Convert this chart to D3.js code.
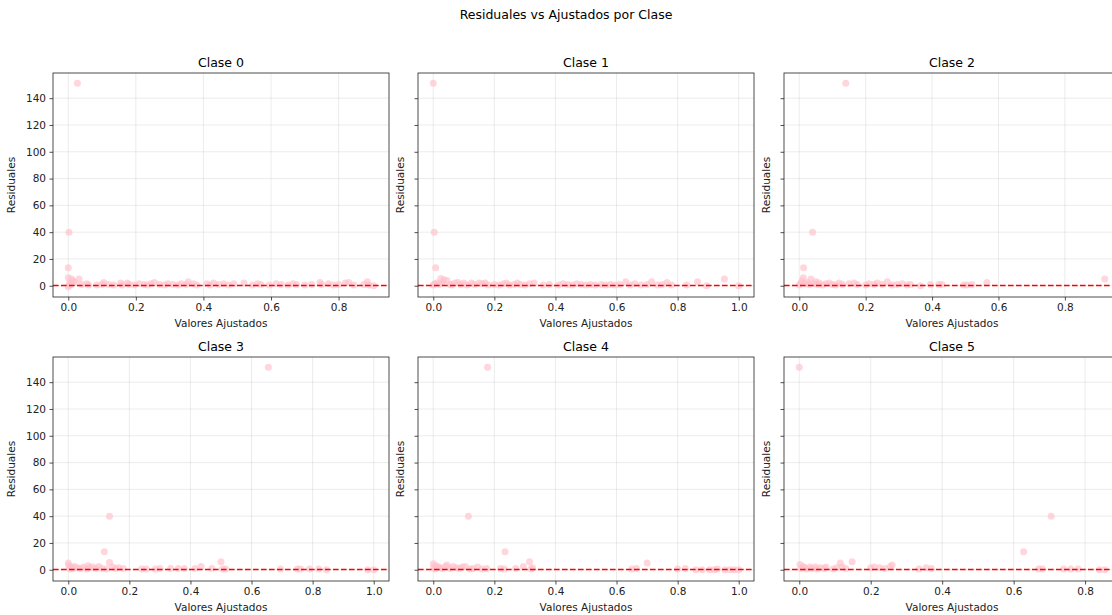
<!DOCTYPE html>
<html>
<head>
<meta charset="utf-8">
<script src="https://cdn.jsdelivr.net/npm/d3@7"></script>
<style>
  body { margin: 0; background: #fff; }
  svg { font-family: "DejaVu Sans", sans-serif; }
</style>
</head>
<body>
<div class="chart"></div>
<script>
// fitted values (x) and residuals (y) for each class
const classNames = ["Clase 0", "Clase 1", "Clase 2", "Clase 3", "Clase 4", "Clase 5"];

const fitted0 = [0.027, 0.002, 0.0, 0.0, 0.01, 0.032, 0.015, 0.005, 0.008, 0.02, 0.0, 0.003, 0.04, 0.055, 0.06,
  0.085, 0.1, 0.105, 0.12, 0.135, 0.155, 0.16, 0.175, 0.18, 0.195, 0.21, 0.225, 0.235, 0.245, 0.255, 0.27, 0.285,
  0.295, 0.31, 0.325, 0.335, 0.35, 0.355, 0.37, 0.38, 0.41, 0.42, 0.43, 0.445, 0.46, 0.475, 0.49, 0.52, 0.545,
  0.56, 0.57, 0.595, 0.615, 0.63, 0.65, 0.665, 0.675, 0.7, 0.72, 0.745, 0.75, 0.77, 0.785, 0.8, 0.82, 0.83,
  0.845, 0.875, 0.885, 0.89, 0.904];
const resid0 = [151.2, 40, 13.5, 6, 5, 5, 3.5, 2, 1, 2.5, -0.8, 0.5, 1, 1.5, 0.5,
  0.5, 1, 2.5, 1, 0.5, 2, 0.5, 2, 1, 0.5, 1.5, 1, 0.5, 1.5, 2.5, 1, 0.5,
  1.5, 1, 0.5, 1.5, 1, 3, 1.5, 0.5, 1.5, 0.5, 2, 1, 1.5, 0.5, 1.5, 2, 0.5,
  1.5, 1, 0.5, 1.5, 1, 0.5, 1.5, 1, 0.5, 1, 2.5, 1, 1.5, 0.5, 1, 2, 2.5,
  0.5, 1, 3, 0.5, 0];

const fitted1 = [0.0, 0.003, 0.008, 0.025, 0.035, 0.045, 0.0, 0.005, 0.012, 0.02, 0.03, 0.055, 0.06, 0.07,
  0.08, 0.09, 0.1, 0.11, 0.125, 0.135, 0.15, 0.16, 0.17, 0.18, 0.2, 0.215, 0.23, 0.24, 0.25, 0.265, 0.275,
  0.285, 0.3, 0.315, 0.33, 0.36, 0.38, 0.41, 0.425, 0.44, 0.455, 0.47, 0.485, 0.5, 0.515, 0.53, 0.55,
  0.565, 0.58, 0.595, 0.61, 0.63, 0.645, 0.66, 0.68, 0.7, 0.715, 0.735, 0.75, 0.765, 0.78, 0.83, 0.865,
  0.895, 0.953, 1.0];
const resid1 = [151.2, 40, 13.5, 5.5, 4.5, 4, 0.5, 1.5, 2, 1, 2.5, 1, 0.5, 2,
  2.5, 1, 2, 0.5, 2, 1, 2, 1.5, 2, 0.5, 1, 0.5, 1.5, 2, 0.5, 1, 2,
  1, 0.5, 1.5, 2, 0.5, 1, 0.5, 1.5, 1, 0.5, 1.5, 1, 0.5, 1, 0.5, 1,
  0.5, 1, 0.5, 1, 3, 0.5, 1.5, 0.5, 1, 3, 0.5, 1, 2.5, 0.5, 0.5, 3,
  0, 5, 0];

const fitted2 = [0.14, 0.04, 0.013, 0.012, 0.035, 0.92, 0.0, 0.005, 0.008, 0.018, 0.025, 0.03, 0.045, 0.05,
  0.055, 0.06, 0.07, 0.08, 0.09, 0.1, 0.11, 0.12, 0.13, 0.15, 0.165, 0.175, 0.2, 0.21, 0.225, 0.235, 0.25,
  0.265, 0.28, 0.295, 0.31, 0.325, 0.335, 0.365, 0.395, 0.42, 0.43, 0.495, 0.505, 0.52, 0.565];
const resid2 = [151.2, 40, 13.5, 6, 5, 5, 0.5, 2, 3.5, 1.5, 2.5, 1, 1.5, 3,
  1, 2, 0.5, 1.5, 2, 1, 0.5, 2, 1, 1.5, 2, 1, 0.5, 1.5, 1, 2, 1,
  3, 0.5, 1, 1.5, 0.5, 1, 0, 1, 1, 1, 0.5, 0.5, 1, 2.5];

const fitted3 = [0.655, 0.135, 0.118, 0.135, 0.5, 0.0, 0.002, 0.005, 0.01, 0.015, 0.02, 0.03, 0.04, 0.05,
  0.06, 0.065, 0.07, 0.08, 0.09, 0.1, 0.11, 0.125, 0.145, 0.155, 0.165, 0.18, 0.24, 0.255, 0.285, 0.3,
  0.335, 0.36, 0.38, 0.415, 0.435, 0.47, 0.505, 0.515, 0.695, 0.75, 0.76, 0.79, 0.82, 0.845, 0.98, 1.0];
const resid3 = [151.2, 40, 13.5, 5.5, 6, 5, 3, 0.5, 2, 1, 2.5, 1.5, 1, 2,
  0.5, 3, 1.5, 2, 1, 2.5, 1, 0.5, 2, 1, 1.5, 1, 0.5, 0.5, 0.5, 1,
  1, 1, 1, 1, 2.5, 1, 0.5, 0.5, 0.5, 0.5, 0.5, 0.5, 0.5, 0, 0, 0];

const fitted4 = [0.178, 0.115, 0.235, 0.315, 0.7, 0.0, 0.045, 0.002, 0.005, 0.01, 0.015, 0.02, 0.03, 0.04,
  0.055, 0.065, 0.075, 0.085, 0.095, 0.105, 0.12, 0.13, 0.145, 0.16, 0.175, 0.22, 0.232, 0.27, 0.295,
  0.32, 0.325, 0.65, 0.665, 0.8, 0.825, 0.86, 0.88, 0.905, 0.92, 0.93, 0.955, 0.97, 0.985, 1.0];
const resid4 = [151.2, 40, 13.5, 6, 5, 4.5, 3.5, 2, 0.5, 3, 1.5, 2, 1, 2.5,
  1, 2.5, 1.5, 1, 2, 2.5, 0.5, 1, 2, 0.5, 1, 1, 0.5, 1, 2.5,
  0.5, 1.5, 0.5, 1, 0.5, 1, 0, 0, 0, 0, 0.5, 0, 0, 0, 0];

const fitted5 = [0.0, 0.705, 0.628, 0.148, 0.115, 0.26, 0.002, 0.005, 0.01, 0.015, 0.02, 0.03, 0.035,
  0.045, 0.05, 0.06, 0.07, 0.075, 0.095, 0.105, 0.12, 0.13, 0.2, 0.21, 0.225, 0.24, 0.255, 0.335, 0.355,
  0.37, 0.67, 0.68, 0.74, 0.76, 0.78, 0.84, 0.855];
const resid5 = [151.2, 40, 13.5, 6, 5, 3.5, 4, 1, 2.5, 1.5, 0.5, 2, 1,
  2, 0.5, 1.5, 1, 2, 0.5, 1.5, 2, 1, 1.5, 2, 1.5, 1, 2.5, 0.5, 1.5,
  1, 0.5, 0.5, 0.5, 0.5, 0.5, 0, 0];

const fittedByClass = [fitted0, fitted1, fitted2, fitted3, fitted4, fitted5];
const residByClass = [resid0, resid1, resid2, resid3, resid4, resid5];
const yTicks = [0, 20, 40, 60, 80, 100, 120, 140];

const width = 1112;
const height = 615;
const colLeft = [53, 418, 784];
const rowTop = [73, 357];
const panelW = 336;
const panelH = 224;

const svg = d3.select(".chart")
    .append("svg")
    .attr("width", width)
    .attr("height", height);

svg.append("text")
    .attr("x", 566)
    .attr("y", 19)
    .attr("text-anchor", "middle")
    .attr("font-size", "12.5px")
    .attr("fill", "#000")
    .text("Residuales vs Ajustados por Clase");

// shared y scale, padded 5% like matplotlib
const allResid = residByClass.flat();
const [yMin, yMax] = d3.extent(allResid);
const yPad = (yMax - yMin) * 0.05;

classNames.forEach((name, i) => {
    const col = i % 3;
    const row = Math.floor(i / 3);
    const xs = fittedByClass[i];
    const ys = residByClass[i];
    const points = xs.map((x, k) => ({ x, y: ys[k] }));

    const [xMin, xMax] = d3.extent(xs);
    const xPad = (xMax - xMin) * 0.05;

    const xScale = d3.scaleLinear().domain([xMin - xPad, xMax + xPad]).range([0, panelW]);
    const yScale = d3.scaleLinear().domain([yMin - yPad, yMax + yPad]).range([panelH, 0]);

    const g = svg.append("g")
        .attr("transform", `translate(${colLeft[col]},${rowTop[row]})`);

    const xTicks = d3.range(0, xMax + xPad + 1e-9, 0.2).map(v => +v.toFixed(1));

    // grid
    g.append("g").selectAll("line")
        .data(xTicks)
        .enter().append("line")
        .attr("x1", d => xScale(d)).attr("x2", d => xScale(d))
        .attr("y1", 0).attr("y2", panelH)
        .attr("stroke", "#b0b0b0").attr("stroke-opacity", 0.3).attr("stroke-width", 0.8);
    g.append("g").selectAll("line")
        .data(yTicks)
        .enter().append("line")
        .attr("x1", 0).attr("x2", panelW)
        .attr("y1", d => yScale(d)).attr("y2", d => yScale(d))
        .attr("stroke", "#b0b0b0").attr("stroke-opacity", 0.3).attr("stroke-width", 0.8);

    g.append("g").selectAll("circle")
        .data(points)
        .enter().append("circle")
        .attr("cx", d => xScale(d.x))
        .attr("cy", d => yScale(d.y))
        .attr("r", 3.5)
        .attr("fill", "pink")
        .attr("fill-opacity", 0.65);

    const zeroY = Math.floor(yScale(0)) + 0.5;
    g.append("line")
        .attr("x1", 0).attr("x2", panelW)
        .attr("y1", zeroY).attr("y2", zeroY)
        .attr("stroke", "#ff0000")
        .attr("stroke-width", 1.5)
        .attr("stroke-dasharray", "5.6,2.4");

    const xAxis = g.append("g")
        .attr("transform", `translate(0,${panelH})`)
        .call(d3.axisBottom(xScale).tickValues(xTicks).tickFormat(d3.format(".1f")).tickSize(3.5).tickPadding(3.5));
    const yAxis = g.append("g")
        .call(d3.axisLeft(yScale).tickValues(yTicks)
            .tickFormat(col === 0 ? d3.format("d") : "")
            .tickSize(3.5).tickPadding(3.5));

    [xAxis, yAxis].forEach(ax => {
        ax.select(".domain").remove();
        ax.selectAll("text").attr("font-size", "10.5px").attr("fill", "#222")
            .attr("font-family", "DejaVu Sans, sans-serif");
        ax.selectAll("line").attr("stroke", "#222").attr("stroke-width", 0.8);
    });

    g.append("rect")
        .attr("width", panelW).attr("height", panelH)
        .attr("fill", "none").attr("stroke", "#222").attr("stroke-width", 0.8);

    g.append("text")
        .attr("x", panelW / 2).attr("y", -6)
        .attr("text-anchor", "middle")
        .attr("font-size", "12.5px")
        .text(name);

    g.append("text")
        .attr("x", panelW / 2).attr("y", panelH + 30)
        .attr("text-anchor", "middle")
        .attr("font-size", "10.5px")
        .attr("fill", "#222")
        .text("Valores Ajustados");

    const labelX = col === 0 ? -38 : -14;
    g.append("text")
        .attr("transform", `translate(${labelX},${panelH / 2}) rotate(-90)`)
        .attr("text-anchor", "middle")
        .attr("font-size", "10.5px")
        .attr("fill", "#222")
        .text("Residuales");
});
</script>
</body>
</html>
